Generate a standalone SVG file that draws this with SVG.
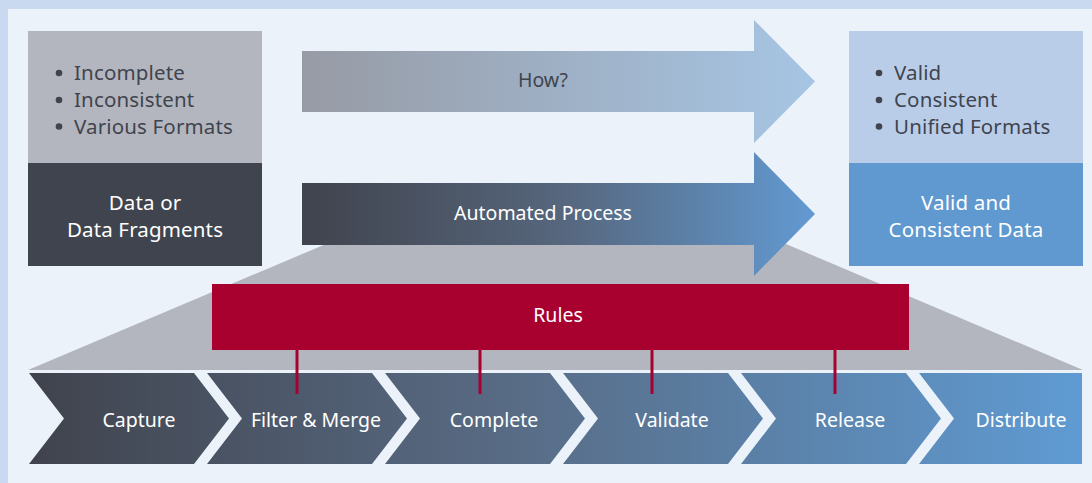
<svg xmlns="http://www.w3.org/2000/svg" width="1092" height="483" viewBox="0 0 1092 483">
<defs>
<linearGradient id="gHow" x1="302" y1="0" x2="815" y2="0" gradientUnits="userSpaceOnUse">
<stop offset="0" stop-color="#979ba5"/><stop offset="1" stop-color="#a6c5e4"/>
</linearGradient>
<linearGradient id="gAuto" x1="302" y1="0" x2="815" y2="0" gradientUnits="userSpaceOnUse">
<stop offset="0" stop-color="#40434d"/><stop offset="0.5" stop-color="#56667c"/><stop offset="1" stop-color="#629ad2"/>
</linearGradient>
<linearGradient id="gChev" x1="29" y1="0" x2="1082" y2="0" gradientUnits="userSpaceOnUse">
<stop offset="0" stop-color="#40434d"/><stop offset="0.45" stop-color="#586b84"/><stop offset="1" stop-color="#5f9bd3"/>
</linearGradient>
<style>
text{font-family:"Noto Sans","Liberation Sans",Arial,sans-serif;font-size:19.5px;}
.big{font-size:20.5px;letter-spacing:0.15px;}
.dk{fill:#40444e;}
.wh{fill:#ffffff;}
.c{text-anchor:middle;}
.dot{fill:#40444e;}
.chev{fill:url(#gChev);}
.rl{stroke:#a8002f;stroke-width:3;}
</style>
</defs>
<rect x="0" y="0" width="1092" height="483" fill="#c9d9ef"/>
<rect x="8" y="9" width="1084" height="474" fill="#ebf2fa"/>
<polygon id="funnel" points="326,244 786,244 1083,370 28,370" fill="#b3b6be"/>
<g id="arrow-how">
<polygon points="302,51 754,51 754,20 815,81.5 754,143 754,112 302,112" fill="url(#gHow)"/>
<text class="dk c" x="543" y="87">How?</text>
</g>
<g id="arrow-auto">
<polygon points="302,183 754,183 754,152 815,214 754,276 754,245 302,245" fill="url(#gAuto)"/>
<text class="wh c" x="543" y="220">Automated Process</text>
</g>
<g id="box-input">
<rect x="28" y="31" width="234" height="132" fill="#b3b6be"/>
<rect x="28" y="163" width="234" height="103" fill="#40444e"/>
<circle class="dot" cx="59" cy="73" r="3.3"/>
<circle class="dot" cx="59" cy="100" r="3.3"/>
<circle class="dot" cx="59" cy="126.5" r="3.3"/>
<text class="dk big" x="74" y="80">Incomplete</text>
<text class="dk big" x="74" y="107">Inconsistent</text>
<text class="dk big" x="74" y="133.5">Various Formats</text>
<text class="wh c big" x="145" y="210">Data or</text>
<text class="wh c big" x="145" y="237">Data Fragments</text>
</g>
<g id="box-output">
<rect x="849" y="31" width="234" height="132" fill="#b9cde9"/>
<rect x="849" y="163" width="234" height="103" fill="#5f99d0"/>
<circle class="dot" cx="879" cy="73" r="3.3"/>
<circle class="dot" cx="879" cy="100" r="3.3"/>
<circle class="dot" cx="879" cy="126.5" r="3.3"/>
<text class="dk big" x="894" y="80">Valid</text>
<text class="dk big" x="894" y="107">Consistent</text>
<text class="dk big" x="894" y="133.5">Unified Formats</text>
<text class="wh c big" x="966" y="210">Valid and</text>
<text class="wh c big" x="966" y="237">Consistent Data</text>
</g>
<g id="rules">
<rect x="212" y="284" width="697" height="66" fill="#a8002f"/>
<text class="wh c" x="558" y="322">Rules</text>
</g>
<g id="step-capture">
<path class="chev" d="M29,373H194L229,418.5L194,464H29L64,418.5Z"/>
<text class="wh c" x="139" y="427">Capture</text>
</g>
<g id="step-filter">
<path class="chev" d="M207,373H372L407,418.5L372,464H207L242,418.5Z"/>
<text class="wh c" x="316" y="427">Filter &amp; Merge</text>
</g>
<g id="step-complete">
<path class="chev" d="M385,373H550L585,418.5L550,464H385L420,418.5Z"/>
<text class="wh c" x="494" y="427">Complete</text>
</g>
<g id="step-validate">
<path class="chev" d="M563,373H728L763,418.5L728,464H563L598,418.5Z"/>
<text class="wh c" x="672" y="427">Validate</text>
</g>
<g id="step-release">
<path class="chev" d="M741,373H906L941,418.5L906,464H741L776,418.5Z"/>
<text class="wh c" x="850" y="427">Release</text>
</g>
<g id="step-distribute">
<path class="chev" d="M919,373H1082V464H919L954,418.5Z"/>
<text class="wh c" x="1021" y="427">Distribute</text>
</g>
<g id="connectors">
<line class="rl" x1="297" y1="350" x2="297" y2="394"/>
<line class="rl" x1="480" y1="350" x2="480" y2="394"/>
<line class="rl" x1="652" y1="350" x2="652" y2="394"/>
<line class="rl" x1="835" y1="350" x2="835" y2="394"/>
</g>
</svg>
